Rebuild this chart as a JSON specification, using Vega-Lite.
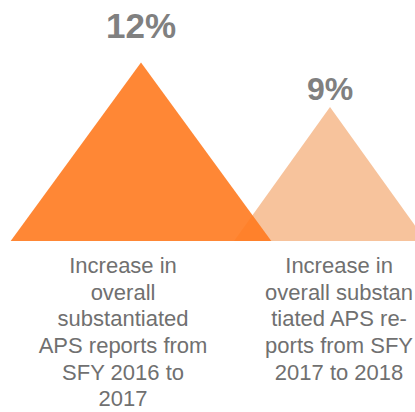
{
  "$schema": "https://vega.github.io/schema/vega-lite/v6.json",
  "width": 415,
  "height": 412,
  "padding": 0,
  "autosize": {"type": "none"},
  "config": {"view": {"stroke": null}},
  "datasets": {
    "shapes": [
      {"period": "SFY 2016 to 2017", "x": 0.3105, "y": 0},
      {"period": "SFY 2016 to 2017", "x": 1, "y": 12},
      {"period": "SFY 2016 to 2017", "x": 1.6895, "y": 0},
      {"period": "SFY 2017 to 2018", "x": 1.492, "y": 0},
      {"period": "SFY 2017 to 2018", "x": 2, "y": 9},
      {"period": "SFY 2017 to 2018", "x": 2.508, "y": 0}
    ],
    "labels": [
      {"period": "SFY 2016 to 2017", "x": 1, "ly": 13.64, "label": "12%", "size": 35},
      {"period": "SFY 2017 to 2018", "x": 2, "ly": 9.48, "label": "9%", "size": 32}
    ],
    "desc": [
      {"x": 0.905, "y": 0, "text": "Increase in\noverall\nsubstantiated\nAPS reports from\nSFY 2016 to\n2017"},
      {"x": 2.048, "y": 0, "text": "Increase in\noverall substan\ntiated APS re-\nports from SFY\n2017 to 2018"}
    ]
  },
  "layer": [
    {
      "data": {"name": "shapes"},
      "transform": [{"filter": "datum.period == 'SFY 2017 to 2018'"}],
      "mark": {"type": "area", "color": "#F7C39C", "clip": true},
      "encoding": {
        "x": {"field": "x", "type": "quantitative", "scale": {"domain": [0.254, 2.4497], "nice": false, "zero": false}, "axis": null},
        "y": {"field": "y", "type": "quantitative", "stack": null, "scale": {"domain": [-11.5, 16.2], "nice": false, "zero": false}, "axis": null}
      }
    },
    {
      "data": {"name": "shapes"},
      "transform": [{"filter": "datum.period == 'SFY 2016 to 2017'"}],
      "mark": {"type": "area", "color": "#FF7A1F", "opacity": 0.9, "clip": true},
      "encoding": {
        "x": {"field": "x", "type": "quantitative"},
        "y": {"field": "y", "type": "quantitative", "stack": null}
      }
    },
    {
      "data": {"name": "labels"},
      "mark": {"type": "text", "font": "Liberation Sans", "fontWeight": "bold", "color": "#808080", "baseline": "alphabetic", "align": "center"},
      "encoding": {
        "x": {"field": "x", "type": "quantitative"},
        "y": {"field": "ly", "type": "quantitative"},
        "text": {"field": "label"},
        "size": {"field": "size", "type": "quantitative", "scale": null}
      }
    },
    {
      "data": {"name": "desc"},
      "mark": {"type": "text", "font": "Liberation Sans", "fontSize": 22, "color": "#707070", "baseline": "top", "align": "center", "lineBreak": "\n", "lineHeight": 26.7, "dy": 15},
      "encoding": {
        "x": {"field": "x", "type": "quantitative"},
        "y": {"field": "y", "type": "quantitative"},
        "text": {"field": "text"}
      }
    }
  ]
}
